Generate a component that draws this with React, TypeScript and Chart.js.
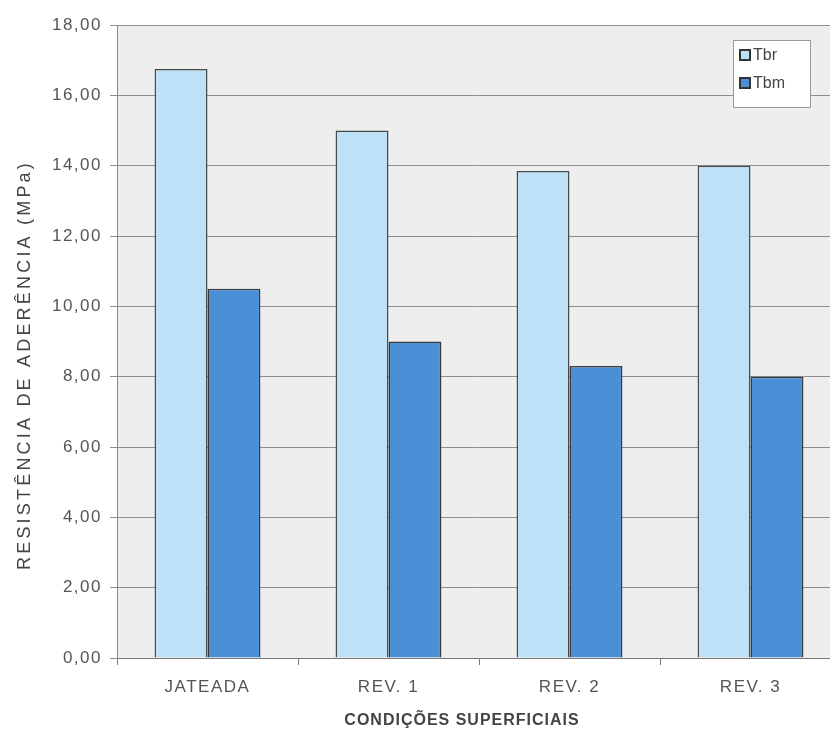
import React, { useEffect, useRef } from "react";
import { Chart, registerables } from "chart.js";

Chart.register(...registerables);

const categories = ["JATEADA", "REV. 1", "REV. 2", "REV. 3"];
const tbrValues = [16.75, 15.0, 13.85, 14.0];
const tbmValues = [10.5, 9.0, 8.3, 8.0];
const seriesLabels = ["Tbr", "Tbm"];
const yTitle = "RESISTÊNCIA DE ADERÊNCIA (MPa)";
const xTitle = "CONDIÇÕES SUPERFICIAIS";

const FONT = "'Liberation Sans', Arial, sans-serif";

const bgPlugin = {
  id: "plotBg",
  beforeDraw(chart: any) {
    const { ctx, chartArea } = chart;
    ctx.save();
    ctx.fillStyle = "#eeeeee";
    ctx.fillRect(chartArea.left, chartArea.top, chartArea.right - chartArea.left, chartArea.bottom - chartArea.top);
    ctx.restore();
    (ctx as any).letterSpacing = "1.5px";
  },
  afterDraw(chart: any) {
    const { ctx, chartArea } = chart;
    ctx.save();
    // axis titles
    ctx.fillStyle = "#444";
    ctx.textAlign = "center";
    ctx.textBaseline = "middle";
    (ctx as any).letterSpacing = "1px";
    ctx.font = `bold 16px ${FONT}`;
    ctx.fillText(xTitle, 462, 721);
    ctx.save();
    ctx.translate(25, 365);
    ctx.rotate(-Math.PI / 2);
    (ctx as any).letterSpacing = "3.2px";
    ctx.font = `18px ${FONT}`;
    ctx.fillText(yTitle, 0, 0);
    ctx.restore();
    // legend box
    (ctx as any).letterSpacing = "0px";
    const x = chartArea.right - 108;
    const y = 40;
    const w = 77;
    const h = 67;
    ctx.fillStyle = "#ffffff";
    ctx.fillRect(x, y, w, h);
    ctx.strokeStyle = "#9a9a9a";
    ctx.lineWidth = 1;
    ctx.strokeRect(x + 0.5, y + 0.5, w, h);
    chart.data.datasets.forEach((ds: any, i: number) => {
      const sy = y + 15 + i * 28;
      ctx.fillStyle = ds.backgroundColor;
      ctx.fillRect(x + 7, sy - 5, 10, 10);
      ctx.strokeStyle = "#333";
      ctx.lineWidth = 2;
      ctx.strokeRect(x + 7, sy - 5, 10, 10);
      ctx.fillStyle = "#444";
      ctx.font = `16px ${FONT}`;
      ctx.textBaseline = "middle";
      ctx.textAlign = "left";
      ctx.fillText(ds.label, x + 20, sy + 1);
    });
    ctx.restore();
  },
};

export default function App() {
  const ref = useRef<HTMLCanvasElement>(null);
  useEffect(() => {
    document.body.style.margin = "0";
    document.body.style.overflow = "hidden";
    const chart = new Chart(ref.current!, {
      type: "bar",
      data: {
        labels: categories,
        datasets: [
          {
            label: seriesLabels[0],
            data: tbrValues,
            backgroundColor: "#bde2f8",
            borderColor: "#4a4a4a",
            borderWidth: 1.5,
            categoryPercentage: 0.585,
            barPercentage: 1.0,
          },
          {
            label: seriesLabels[1],
            data: tbmValues,
            backgroundColor: "#4b90d6",
            borderColor: "#3a3a3a",
            borderWidth: 1.5,
            categoryPercentage: 0.585,
            barPercentage: 1.0,
          },
        ],
      },
      options: {
        responsive: false,
        animation: false,
        layout: { padding: { left: 0, right: 9, top: 25, bottom: 0 } },
        plugins: {
          legend: { display: false },
          tooltip: { enabled: false },
        },
        scales: {
          x: {
            offset: true,
            grid: {
              display: true,
              offset: true,
              drawOnChartArea: false,
              color: "#777",
              tickLength: 7,
            },
            border: { display: true, color: "#777", width: 1 },
            ticks: {
              color: "#555",
              font: { family: FONT, size: 17 },
              padding: 12,
            },
            afterFit(scale: any) {
              scale.height = 78;
            },
          },
          y: {
            min: 0,
            max: 18,
            grid: {
              color: "#8e8e8e",
              lineWidth: 1,
              tickLength: 7,
            },
            border: { display: true, color: "#888", width: 1 },
            ticks: {
              stepSize: 2,
              color: "#555",
              font: { family: FONT, size: 17 },
              padding: 8,
              callback: (v: any) => Number(v).toFixed(2).replace(".", ","),
            },
            afterFit(scale: any) {
              scale.width = 117;
            },
          },
        },
      },
      plugins: [bgPlugin],
    } as any);
    return () => chart.destroy();
  }, []);
  return (
    <div style={{ width: 830, height: 736, overflow: "hidden", background: "#fff" }}>
      <canvas ref={ref} width={850} height={736} style={{ display: "block" }} />
    </div>
  );
}
